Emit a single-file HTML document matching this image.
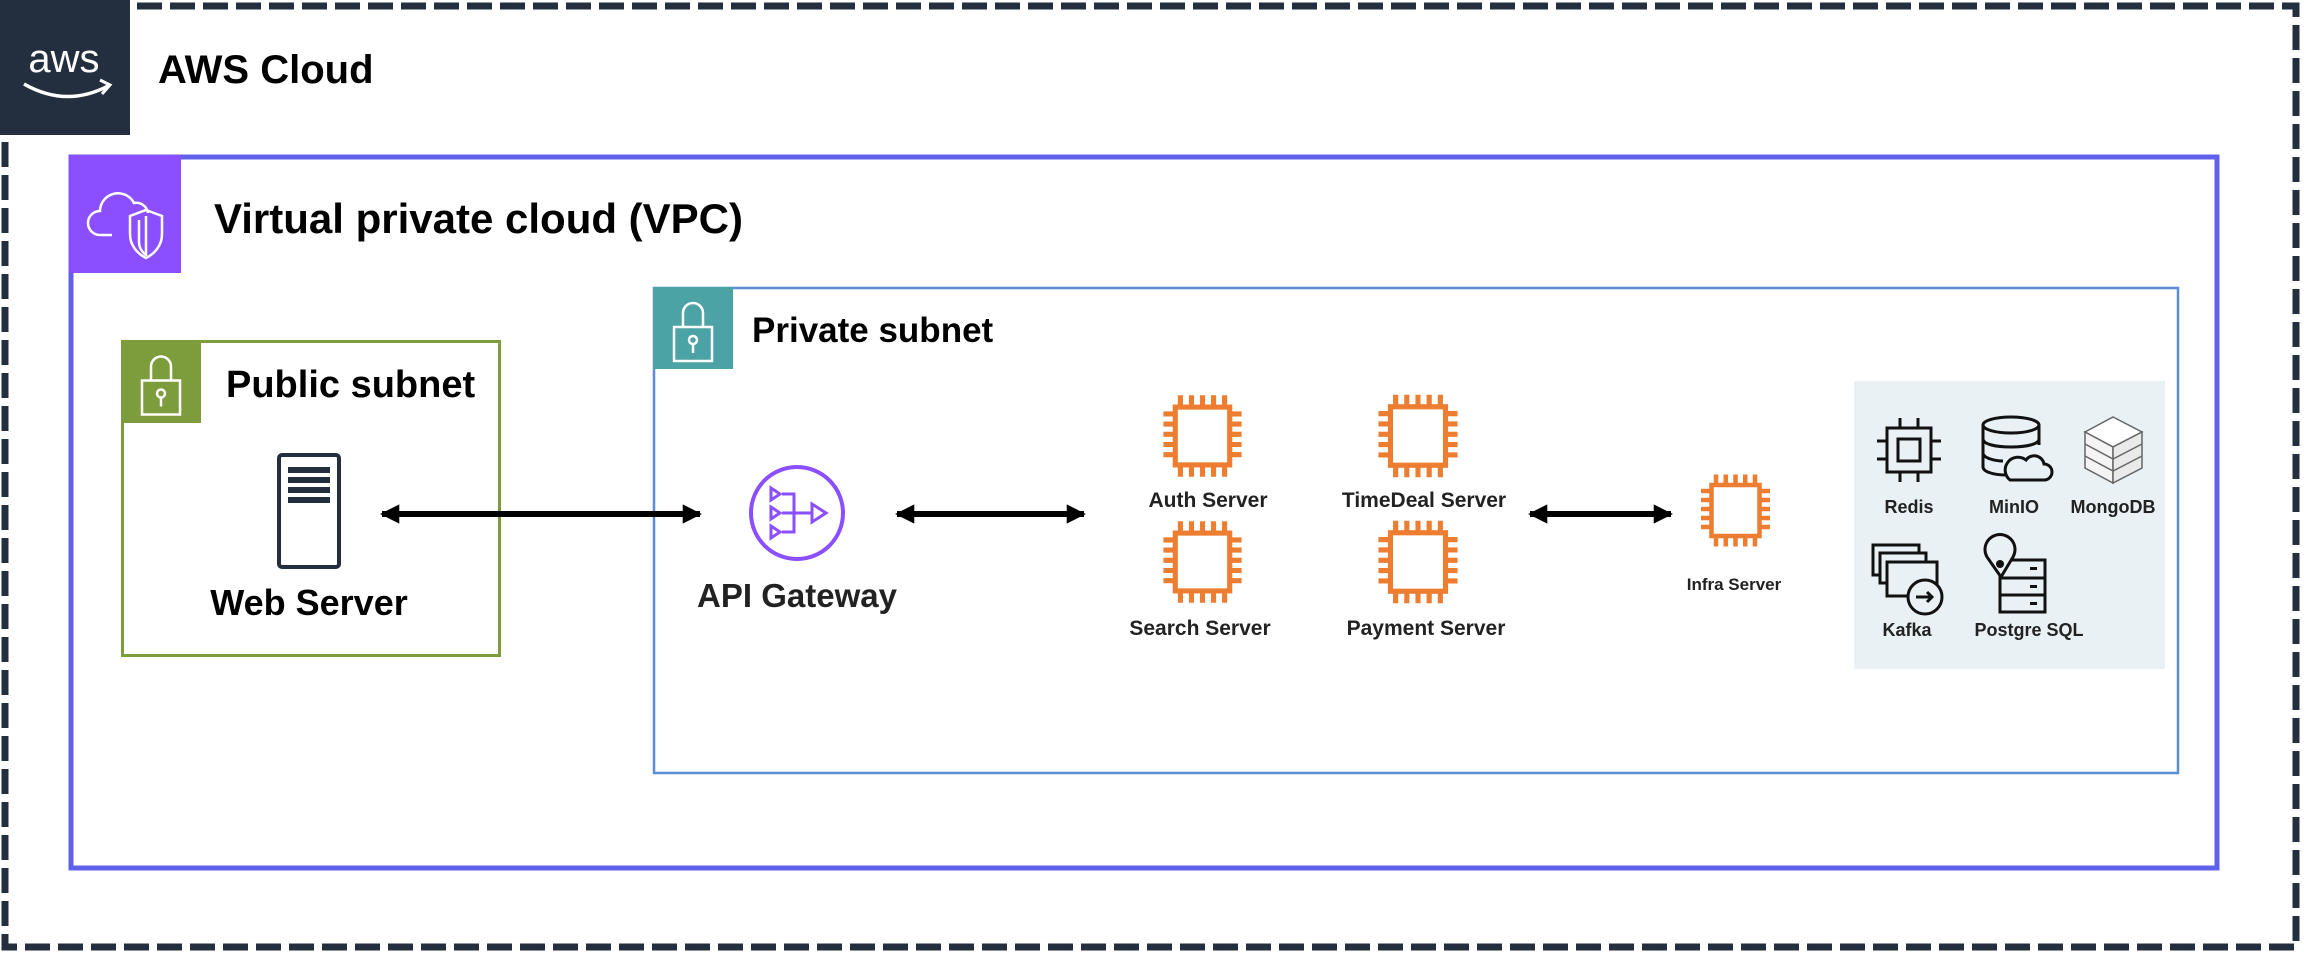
<!DOCTYPE html>
<html><head><meta charset="utf-8"><style>
html,body{margin:0;padding:0;background:#fff;}
svg{display:block;}
text{font-family:"Liberation Sans",Arial,sans-serif;}
</style></head><body>
<svg width="2304" height="954" viewBox="0 0 2304 954" xmlns="http://www.w3.org/2000/svg">
<defs>
<symbol id="chip" viewBox="0 0 100 100">
 <g stroke="#ed7d31" stroke-width="6" fill="none">
  <rect x="18" y="16" width="64" height="68"/>
  <path d="M24 2V16M37 2V16M50 2V16M63 2V16M76 2V16M24 84V98M37 84V98M50 84V98M63 84V98M76 84V98"/>
  <path d="M4 24H18M4 36H18M4 48H18M4 60H18M4 72H18M82 24H96M82 36H96M82 48H96M82 60H96M82 72H96"/>
 </g>
</symbol>
<symbol id="lock" viewBox="0 0 80 82">
 <g stroke="#fff" stroke-width="2.5" fill="none">
  <path d="M30 40V26a10 10 0 0 1 20 0V40"/>
  <rect x="21" y="40" width="38" height="34"/>
  <circle cx="40" cy="53" r="4"/><path d="M40 57V66"/>
 </g>
</symbol>
<marker id="ah" viewBox="0 0 10 10" refX="9" refY="5" markerWidth="3.2" markerHeight="3.6" orient="auto-start-reverse">
 <path d="M0 0L10 5L0 10z" fill="#000"/>
</marker>
</defs>

<rect x="5" y="6" width="2291" height="941" fill="none" stroke="#232f3e" stroke-width="7" stroke-dasharray="25 8"/>
<rect x="0" y="0" width="130" height="135" fill="#232f3e"/>
<text x="64" y="72" font-size="40" fill="#fff" text-anchor="middle" style="font-weight:400">aws</text>
<path d="M24 84Q66 108 108 86" stroke="#fff" stroke-width="3.5" fill="none"/>
<path d="M100 80L110 85L102 94" stroke="#fff" stroke-width="3" fill="none"/>
<text x="158" y="83" font-size="40" font-weight="bold" fill="#000">AWS Cloud</text>

<rect x="71" y="157" width="2146" height="711" fill="none" stroke="#6160e8" stroke-width="5"/>
<rect x="69" y="155" width="112" height="118" fill="#8c4fff"/>
<g stroke="#fff" stroke-width="2.5" fill="none">
 <path d="M112 235H100a12 12 0 0 1 0-24a18 18 0 0 1 34-8a12 12 0 0 1 14 10"/>
 <path d="M146 210l16 6v18c0 12-8 20-16 24c-8-4-16-12-16-24v-18z"/>
 <path d="M146 216v40"/><path d="M139 220v22c0 6 3 10 7 13"/>
</g>
<text x="214" y="233" font-size="42" font-weight="bold" fill="#000">Virtual private cloud (VPC)</text>

<rect x="122.5" y="341.5" width="377" height="314" fill="none" stroke="#7d9c3b" stroke-width="3"/>
<rect x="121" y="340" width="80" height="83" fill="#7d9c3b"/>
<use href="#lock" x="121" y="340" width="80" height="83"/>
<text x="226" y="397" font-size="38" font-weight="bold" fill="#000">Public subnet</text>
<rect x="279" y="455" width="60" height="112" rx="3" fill="#fff" stroke="#232f3e" stroke-width="4"/>
<g fill="#232f3e"><rect x="288" y="467" width="42" height="6"/><rect x="288" y="477" width="42" height="6"/><rect x="288" y="487" width="42" height="6"/><rect x="288" y="497" width="42" height="6"/></g>
<text x="309" y="615" font-size="36" font-weight="bold" fill="#000" text-anchor="middle">Web Server</text>

<rect x="654" y="288" width="1524" height="485" fill="none" stroke="#5b8ed6" stroke-width="2.5"/>
<rect x="653" y="287" width="80" height="82" fill="#4ba3a6"/>
<use href="#lock" x="653" y="287" width="80" height="82"/>
<text x="752" y="342" font-size="35" font-weight="bold" fill="#000">Private subnet</text>

<circle cx="797" cy="513" r="46" fill="none" stroke="#8c4fff" stroke-width="4"/>
<g stroke="#8c4fff" stroke-width="3" fill="none">
 <path d="M771 488l9 6l-9 6z M771 507l9 6l-9 6z M771 526l9 6l-9 6z"/>
 <path d="M782 494h12v38h-12M782 513h30"/>
 <path d="M812 504l14 9l-14 9z"/>
</g>
<text x="797" y="607" font-size="33" font-weight="bold" fill="#222" text-anchor="middle">API Gateway</text>

<g stroke="#000" stroke-width="6">
 <line x1="382" y1="514" x2="700" y2="514" marker-start="url(#ah)" marker-end="url(#ah)"/>
 <line x1="897" y1="514" x2="1084" y2="514" marker-start="url(#ah)" marker-end="url(#ah)"/>
 <line x1="1530" y1="514" x2="1671" y2="514" marker-start="url(#ah)" marker-end="url(#ah)"/>
</g>

<use href="#chip" x="1160" y="393" width="85" height="86"/>
<use href="#chip" x="1375" y="393" width="86" height="86"/>
<use href="#chip" x="1160" y="518" width="85" height="88"/>
<use href="#chip" x="1375" y="518" width="86" height="88"/>
<use href="#chip" x="1698" y="473" width="75" height="75"/>
<g font-size="21" font-weight="bold" fill="#222" text-anchor="middle">
 <text x="1208" y="507">Auth Server</text>
 <text x="1424" y="507">TimeDeal Server</text>
 <text x="1200" y="635">Search Server</text>
 <text x="1426" y="635">Payment Server</text>
 <text x="1734" y="590" font-size="17">Infra Server</text>
</g>

<rect x="1854" y="381" width="311" height="288" fill="#eaf1f4"/>
<g stroke="#111" stroke-width="3" fill="none">
 <rect x="1887" y="428" width="44" height="44"/><rect x="1898" y="439" width="22" height="22"/>
 <path d="M1900 418v10M1918 418v10M1900 472v10M1918 472v10M1877 441h10M1877 459h10M1931 441h10M1931 459h10"/>
 <ellipse cx="2011" cy="425" rx="28" ry="8"/>
 <path d="M1983 425v42c0 5 12 8 22 8M2039 425v20M1983 439c0 5 12 8 28 8s28-3 28-8M1983 453c0 5 12 8 20 8"/>
 <path d="M2010 480h34a8 8 0 0 0 0-16a10 10 0 0 0-18-4a9 9 0 0 0-16 20z"/>
 <rect x="1873" y="545" width="46" height="30"/><rect x="1880" y="553" width="46" height="30" fill="#eaf1f4"/><rect x="1887" y="562" width="50" height="34" fill="#eaf1f4"/>
 <circle cx="1925" cy="597" r="17" fill="#eaf1f4"/><path d="M1916 597h16M1927 592l5 5l-5 5"/>
 <rect x="2000" y="560" width="45" height="18"/><rect x="2000" y="578" width="45" height="17"/><rect x="2000" y="595" width="45" height="17"/>
 <path d="M2001 577l-14-20a15 15 0 1 1 26 0z" fill="#eaf1f4"/>
</g>
<circle cx="2000" cy="564" r="4" fill="#111"/>
<g fill="#111"><rect x="2030" y="567" width="7" height="3"/><rect x="2030" y="585" width="7" height="3"/><rect x="2030" y="602" width="7" height="3"/></g>
<g stroke="#666" stroke-width="1.5">
 <path d="M2085 432l28-15l29 15l-29 15z" fill="#fff"/>
 <path d="M2085 432v36l28 15v-36z" fill="#f4f4f4"/>
 <path d="M2142 432v36l-29 15v-36z" fill="#eaeaea"/>
 <path d="M2085 444l28 15l29-15M2085 456l28 15l29-15" fill="none"/>
</g>
<g font-size="18" font-weight="bold" fill="#222" text-anchor="middle">
 <text x="1909" y="513">Redis</text>
 <text x="2014" y="513">MinIO</text>
 <text x="2113" y="513">MongoDB</text>
 <text x="1907" y="636">Kafka</text>
 <text x="2029" y="636">Postgre SQL</text>
</g>
</svg>
</body></html>
